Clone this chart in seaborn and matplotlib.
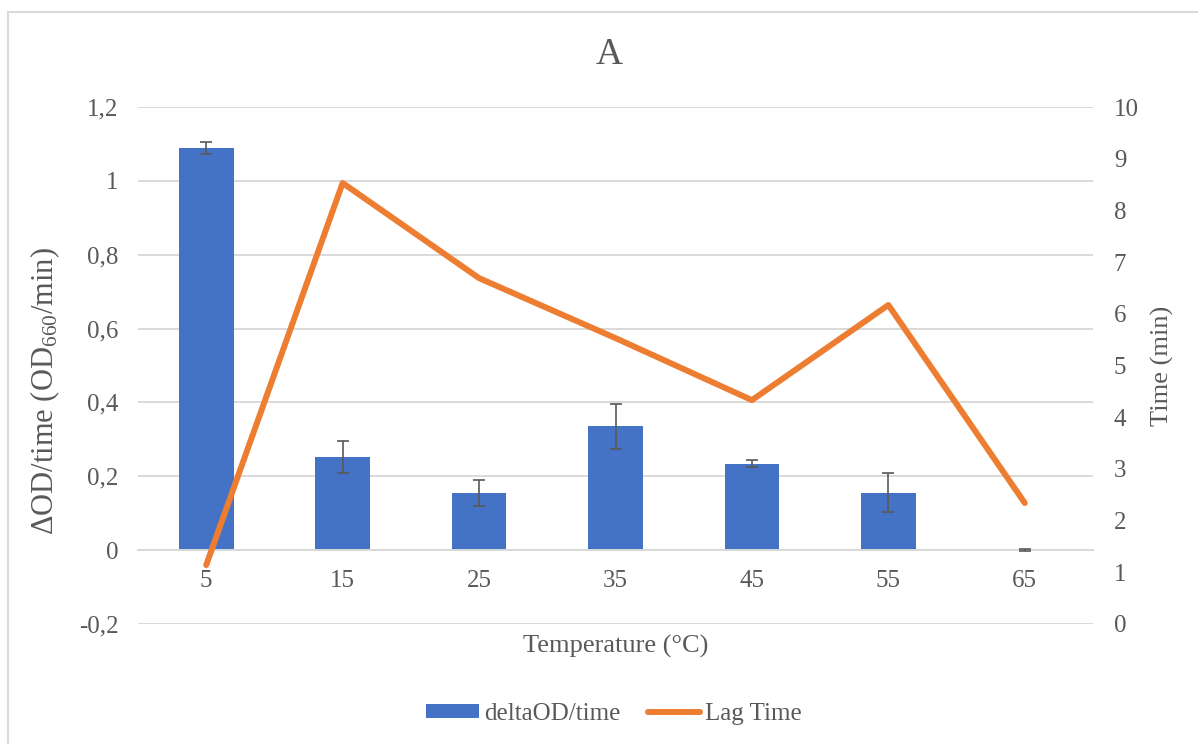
import numpy as np
import pandas as pd
import matplotlib
matplotlib.use("Agg")
import matplotlib.pyplot as plt
import seaborn as sns
from matplotlib.ticker import FuncFormatter, MultipleLocator
from matplotlib.patches import Rectangle

# data
temperature = ["5", "15", "25", "35", "45", "55", "65"]
delta_od = [1.089, 0.252, 0.154, 0.336, 0.234, 0.156, 0.0]
delta_od_err = [0.016, 0.043, 0.035, 0.061, 0.009, 0.054, 0.003]
lag_time = [1.14, 8.53, 6.69, 5.53, 4.33, 6.17, 2.34]

df = pd.DataFrame({
    "temperature": temperature,
    "delta_od": delta_od,
    "err": delta_od_err,
    "lag": lag_time,
})

BLUE = "#4472C4"
ORANGE = "#ED7D31"
GRID = "#D9D9D9"
TEXT = "#595959"

sns.set_theme(style="white")
plt.rcParams["font.family"] = ["Liberation Serif", "DejaVu Serif"]
plt.rcParams["mathtext.fontset"] = "custom"
plt.rcParams["mathtext.rm"] = "Liberation Serif"
plt.rcParams["mathtext.it"] = "Liberation Serif:italic"
plt.rcParams["text.color"] = TEXT

fig = plt.figure(figsize=(11.98, 7.44), dpi=100)
ax = fig.add_axes([138 / 1198, 1 - 624 / 744, (1093 - 138) / 1198, (624 - 107) / 744])

# bars + error bars (left axis)
sns.barplot(data=df, x="temperature", y="delta_od", color=BLUE, saturation=1,
            width=0.4, linewidth=0, ax=ax, zorder=2)
pos = np.arange(len(df))
ax.errorbar(pos, df["delta_od"], yerr=df["err"], fmt="none", ecolor=TEXT,
            elinewidth=1.2, capsize=4.3, capthick=1.2, zorder=3)

ax.set_xlim(-0.5, len(df) - 0.5)
ax.set_ylim(-0.2, 1.2)
ax.yaxis.set_major_locator(MultipleLocator(0.2))
ax.yaxis.set_major_formatter(FuncFormatter(lambda v, p: f"{round(v, 1) + 0.0:g}".replace(".", ",")))
ax.yaxis.grid(True, color=GRID, linewidth=1.4, zorder=0)
ax.set_axisbelow(True)
for s in ["left", "right", "top"]:
    ax.spines[s].set_visible(False)
ax.spines["bottom"].set_position(("data", 0))
ax.spines["bottom"].set_color(GRID)
ax.spines["bottom"].set_linewidth(1.4)
ax.tick_params(axis="both", length=0, labelsize=18, labelcolor=TEXT)
ax.tick_params(axis="x", pad=14)
ax.tick_params(axis="y", pad=14)

ax.set_xlabel("Temperature (°C)", fontsize=19, color=TEXT)
ax.xaxis.set_label_coords(0.5, -0.0426)
ax.xaxis.label.set_va("center")
ax.set_ylabel("ΔOD/time (OD$_{660}$/min)", fontsize=22, color=TEXT)
ax.yaxis.set_label_coords(-0.097, 0.45)
ax.yaxis.label.set_va("center")

# lag time line (right axis)
ax2 = ax.twinx()
sns.lineplot(x=pos, y=df["lag"], ax=ax2, color=ORANGE, linewidth=4.3,
             solid_capstyle="round", solid_joinstyle="round", legend=False)
ax2.set_ylim(0, 10)
ax2.yaxis.set_major_locator(MultipleLocator(1))
for s in ax2.spines.values():
    s.set_visible(False)
ax2.tick_params(axis="y", length=0, labelsize=18, labelcolor=TEXT, pad=15)
ax2.set_ylabel("Time (min)", fontsize=19, color=TEXT)
ax2.yaxis.set_label_coords(1.073, 0.5)
ax2.yaxis.label.set_va("center")

fig.text(609 / 1198, 1 - 55 / 744, "A", fontsize=27, color=TEXT, ha="center", va="center")

fig.legend([ax.containers[0], ax2.lines[0]], ["deltaOD/time", "Lag Time"],
           loc="center", bbox_to_anchor=(614 / 1198, 1 - 714 / 744), ncol=2,
           frameon=False, fontsize=18, handlelength=2.1, handleheight=0.5,
           handletextpad=0.2, columnspacing=1.1, labelcolor=TEXT)

# chart frame (only left/top edges visible in the crop)
fig.add_artist(Rectangle((8 / 1198, -0.05), 1.1, 1 - 12 / 744 + 0.05,
                         transform=fig.transFigure, fill=False, edgecolor=GRID, linewidth=1.4))

fig.savefig("out.png", dpi=100)
